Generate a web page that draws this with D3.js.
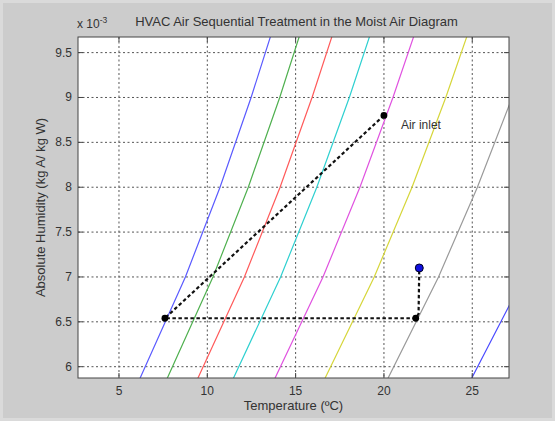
<!DOCTYPE html>
<html>
<head>
<meta charset="utf-8">
<script src="https://cdn.jsdelivr.net/npm/d3@7/dist/d3.min.js"></script>
<style>
  html, body { margin: 0; padding: 0; background: #cccccc; }
  svg { display: block; }
  text { font-family: "Liberation Sans", Arial, sans-serif; fill: #333; }
</style>
</head>
<body>
<svg id="chart" width="555" height="421"></svg>
<script>
// Absolute humidity levels (x 10^-3 kg/kg) at which the constant-RH lines are sampled
const humidityLevels = [5.8, 7.0, 8.0, 9.0, 9.7];

// Temperature (°C) of each relative-humidity line at those humidity levels
const rh100 = [6.03, 8.76, 10.72, 12.48, 13.61];
const rh90  = [7.57, 10.32, 12.32, 14.10, 15.24];
const rh80  = [9.30, 12.10, 14.12, 15.93, 17.09];
const rh70  = [11.31, 14.15, 16.20, 18.04, 19.22];
const rh60  = [13.66, 16.55, 18.64, 20.51, 21.72];
const rh50  = [16.49, 19.45, 21.59, 23.50, 24.73];
const rh40  = [20.05, 23.09, 25.29, 27.26, 28.52];
const rh30  = [24.78, 27.93, 30.21, 32.3, 33.6];

const curveNames = ["100%", "90%", "80%", "70%", "60%", "50%", "40%", "30%"];
const curveTemps = [rh100, rh90, rh80, rh70, rh60, rh50, rh40, rh30];
const curveColors = ["#5a5aff", "#4fb04f", "#ff5a5a", "#2ed0d0", "#e052e0", "#d6d63a", "#9a9a9a", "#4a4aff"];

// Air treatment sequence: inlet -> cooling/dehumidifying -> reheating -> humidifying
const pathTemp = [20.0, 7.6, 21.8, 21.96, 22.0];
const pathHum  = [8.80, 6.54, 6.54, 6.59, 7.10];
const markerTemp = [20.0, 7.6, 21.8];
const markerHum  = [8.80, 6.54, 6.54];
const finalTemp = 22.0;
const finalHum = 7.10;

// Axis ticks
const xTicks = [5, 10, 15, 20, 25];
const yTicks = [6, 6.5, 7, 7.5, 8, 8.5, 9, 9.5];

const svg = d3.select("#chart");
const pLeft = 78, pTop = 37, pRight = 509, pBottom = 378;

// light figure frame
svg.append("rect").attr("x", 1.5).attr("y", 1.5).attr("width", 552).attr("height", 418)
  .attr("fill", "none").attr("stroke", "#dadada").attr("stroke-width", 3);

const x = d3.scaleLinear().domain([2.68, 27.08]).range([pLeft, pRight]);
const y = d3.scaleLinear().domain([5.874, 9.674]).range([pBottom, pTop]);

// plot area
svg.append("rect").attr("x", pLeft).attr("y", pTop)
  .attr("width", pRight - pLeft).attr("height", pBottom - pTop)
  .attr("fill", "#ffffff");

svg.append("clipPath").attr("id", "clip")
  .append("rect").attr("x", pLeft).attr("y", pTop)
  .attr("width", pRight - pLeft).attr("height", pBottom - pTop);

// dotted grid
const grid = svg.append("g").attr("stroke", "#555").attr("stroke-width", 1)
  .attr("stroke-dasharray", "2,2.5");
grid.selectAll(".gx").data(xTicks).join("line")
  .attr("x1", d => x(d)).attr("x2", d => x(d))
  .attr("y1", pTop).attr("y2", pBottom);
grid.selectAll(".gy").data(yTicks).join("line")
  .attr("y1", d => y(d)).attr("y2", d => y(d))
  .attr("x1", pLeft).attr("x2", pRight);

// relative humidity lines
const plot = svg.append("g").attr("clip-path", "url(#clip)");
const line = d3.line().x(d => x(d[0])).y(d => y(d[1]));
curveTemps.forEach((temps, i) => {
  plot.append("path")
    .datum(temps.map((t, j) => [t, humidityLevels[j]]))
    .attr("d", line)
    .attr("fill", "none")
    .attr("stroke", curveColors[i])
    .attr("stroke-width", 1.2)
    .attr("data-rh", curveNames[i]);
});

// treatment path
plot.append("path")
  .datum(pathTemp.map((t, i) => [t, pathHum[i]]))
  .attr("d", line)
  .attr("fill", "none")
  .attr("stroke", "#111")
  .attr("stroke-width", 2.2)
  .attr("stroke-dasharray", "3.5,2.5");

plot.selectAll(".pt").data(markerTemp).join("circle")
  .attr("cx", d => x(d)).attr("cy", (d, i) => y(markerHum[i]))
  .attr("r", 3.4).attr("fill", "#000");

plot.append("circle")
  .attr("cx", x(finalTemp)).attr("cy", y(finalHum))
  .attr("r", 4).attr("fill", "#1010e0").attr("stroke", "#000022").attr("stroke-width", 1);

svg.append("text").attr("x", x(20) + 17).attr("y", y(8.8) + 14)
  .attr("font-size", 12).attr("fill", "#222").text("Air inlet");

// axes box and inward ticks
const axes = svg.append("g").attr("stroke", "#444").attr("stroke-width", 1);
axes.append("rect").attr("x", pLeft).attr("y", pTop)
  .attr("width", pRight - pLeft).attr("height", pBottom - pTop).attr("fill", "none");
xTicks.forEach(t => {
  axes.append("line").attr("x1", x(t)).attr("x2", x(t)).attr("y1", pBottom).attr("y2", pBottom - 5);
  axes.append("line").attr("x1", x(t)).attr("x2", x(t)).attr("y1", pTop).attr("y2", pTop + 5);
});
yTicks.forEach(t => {
  axes.append("line").attr("y1", y(t)).attr("y2", y(t)).attr("x1", pLeft).attr("x2", pLeft + 5);
  axes.append("line").attr("y1", y(t)).attr("y2", y(t)).attr("x1", pRight).attr("x2", pRight - 5);
});

// tick labels
svg.selectAll(".xl").data(xTicks).join("text")
  .attr("x", d => x(d)).attr("y", pBottom + 17)
  .attr("text-anchor", "middle").attr("font-size", 12)
  .text(d => d);
svg.selectAll(".yl").data(yTicks).join("text")
  .attr("x", pLeft - 6).attr("y", d => y(d) + 4)
  .attr("text-anchor", "end").attr("font-size", 12)
  .text(d => d);

// exponent label
const expo = svg.append("text").attr("x", pLeft - 1).attr("y", 28).attr("font-size", 12);
expo.append("tspan").text("x 10");
expo.append("tspan").attr("dy", -5).attr("font-size", 8.5).text("-3");

// title and axis labels
svg.append("text").attr("x", (pLeft + pRight) / 2 + 3).attr("y", 26)
  .attr("text-anchor", "middle").attr("font-size", 13).attr("fill", "#222")
  .text("HVAC Air Sequential Treatment in the Moist Air Diagram");
svg.append("text").attr("x", (pLeft + pRight) / 2).attr("y", 410)
  .attr("text-anchor", "middle").attr("font-size", 13).attr("fill", "#222")
  .text("Temperature (ºC)");
svg.append("text")
  .attr("transform", `translate(45,${(pTop + pBottom) / 2}) rotate(-90)`)
  .attr("text-anchor", "middle").attr("font-size", 13).attr("fill", "#222")
  .text("Absolute Humidity (kg A/ kg W)");
</script>
</body>
</html>
